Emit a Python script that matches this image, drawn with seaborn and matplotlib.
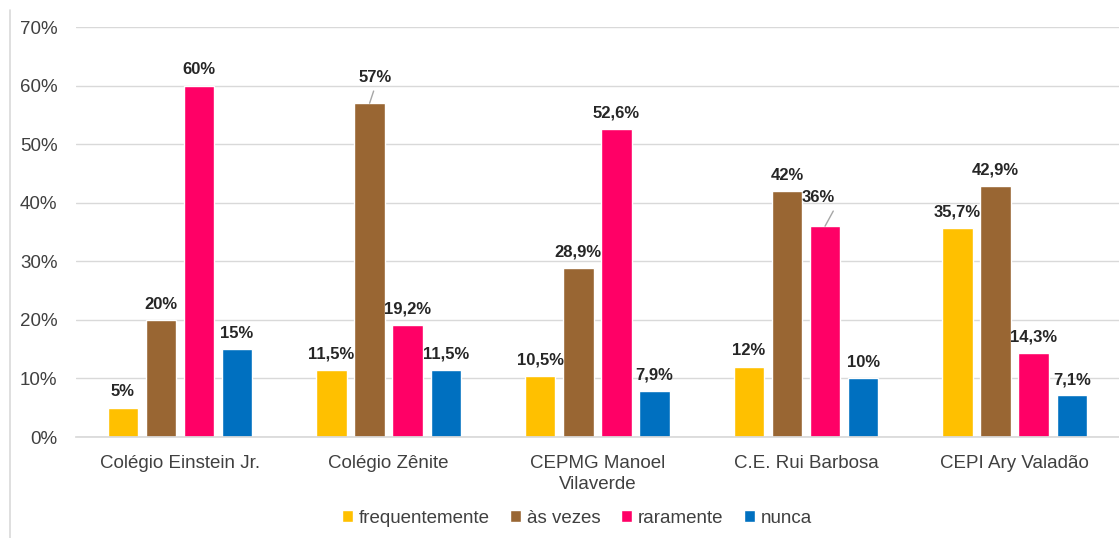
import matplotlib
matplotlib.use("Agg")
import matplotlib.pyplot as plt
from matplotlib.lines import Line2D
import seaborn as sns
import pandas as pd
import numpy as np

schools = ["Colégio Einstein Jr.", "Colégio Zênite", "CEPMG Manoel\nVilaverde", "C.E. Rui Barbosa", "CEPI Ary Valadão"]
series_names = ["frequentemente", "às vezes", "raramente", "nunca"]
frequentemente = [5, 11.5, 10.5, 12, 35.7]
as_vezes = [20, 57, 28.9, 42, 42.9]
raramente = [60, 19.2, 52.6, 36, 14.3]
nunca = [15, 11.5, 7.9, 10, 7.1]
colors = ["#FFC000", "#996633", "#FF0066", "#0070C0"]
yticks = [0, 10, 20, 30, 40, 50, 60, 70]

rows = []
for name, vals in zip(series_names, [frequentemente, as_vezes, raramente, nunca]):
    for s, v in zip(schools, vals):
        rows.append({"escola": s, "serie": name, "valor": v})
df = pd.DataFrame(rows)

sns.set_theme(style="white")
plt.rcParams["font.family"] = ["Liberation Sans", "DejaVu Sans"]

fig = plt.figure(figsize=(11.19, 5.38), dpi=100)
ax = fig.add_axes([0.0676, 0.1877, 0.9324, 0.762])
sns.barplot(data=df, x="escola", y="valor", hue="serie", palette=colors,
            order=schools, hue_order=series_names, width=0.73, gap=0.2,
            ax=ax, saturation=1, legend=True)

ax.set_ylim(0, 70)
ax.set_yticks(yticks)
ax.set_yticklabels([f"{t}%" for t in yticks], fontsize=13.5, color="#404040")
ax.tick_params(axis="x", labelsize=13.5, colors="#404040", length=0, pad=13)
ax.tick_params(axis="y", length=0, pad=13)
for lbl in ax.get_xticklabels():
    lbl.set_linespacing(1.3)
ax.set_xlabel("")
ax.set_ylabel("")
ax.grid(axis="y", color="#D9D9D9", linewidth=1)
ax.set_axisbelow(True)
for sp in ["top", "right", "left"]:
    ax.spines[sp].set_visible(False)
ax.spines["bottom"].set_color("#D9D9D9")
ax.set_xlim(-0.5, 4.5)

def fmt(v):
    s = f"{v:g}".replace(".", ",")
    return s + "%"

special = {(1, 1): (4.3, 13, (0.5, 0)), (2, 3): (-5, 15, (1.05, 0))}
for si, cont in enumerate(ax.containers):
    for ci, bar in enumerate(cont):
        v = bar.get_height()
        xc = bar.get_x() + bar.get_width() / 2
        if (si, ci) in special:
            dx, dy, rp = special[(si, ci)]
            ax.annotate(fmt(v), xy=(xc, v), xytext=(dx, dy), textcoords="offset points",
                        ha="center", va="bottom", fontsize=12, fontweight="bold", color="#262626",
                        arrowprops=dict(arrowstyle="-", color="#A6A6A6", lw=1,
                                        shrinkA=2, shrinkB=0, relpos=rp))
        else:
            ax.annotate(fmt(v), xy=(xc, v), xytext=(0, 6), textcoords="offset points",
                        ha="center", va="bottom", fontsize=12, fontweight="bold", color="#262626")

leg = ax.legend(loc="center", bbox_to_anchor=(0.4805, -0.198), ncol=4, frameon=False,
                fontsize=13.5, handlelength=0.6, handleheight=0.6, handletextpad=0.3,
                columnspacing=1.1)
for t in leg.get_texts():
    t.set_color("#404040")

fig.add_artist(Line2D([10 / 1119, 10 / 1119], [0, 1 - 10 / 538], transform=fig.transFigure,
                      color="#D9D9D9", linewidth=1.2))

fig.savefig("out.png", dpi=100, facecolor="white")
